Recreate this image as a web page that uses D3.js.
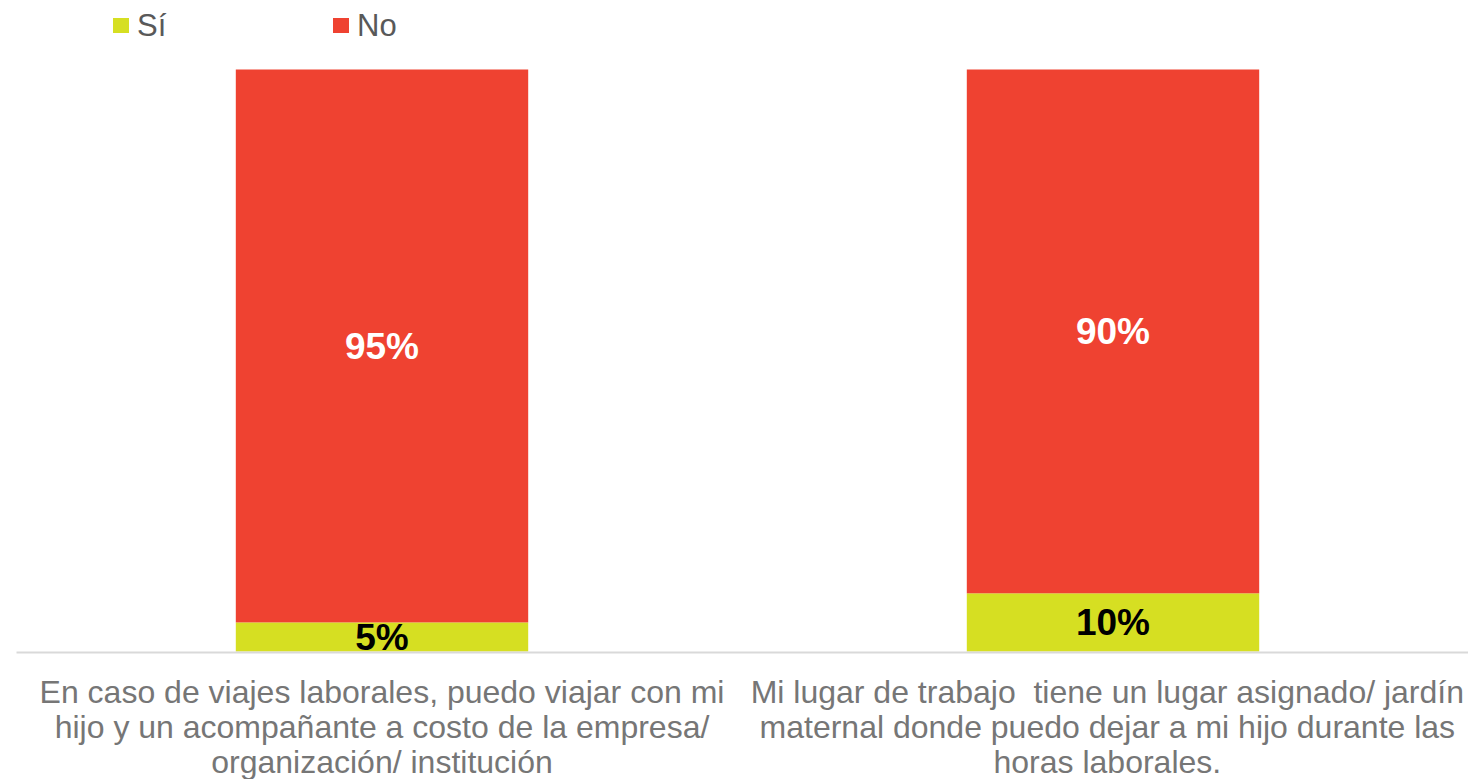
<!DOCTYPE html>
<html>
<head>
<meta charset="utf-8">
<script src="https://cdn.jsdelivr.net/npm/d3@7"></script>
<style>
  body { margin: 0; background: #fff; }
  text { font-family: "Liberation Sans", Arial, sans-serif; }
</style>
</head>
<body>
<svg id="chart" width="1468" height="779"></svg>
<script>
// categories, one label per bar (already split in lines)
var categories = ["q1", "q2"];
var categoryLines = [
  ["En caso de viajes laborales, puedo viajar con mi", "hijo y un acompañante a costo de la empresa/", "organización/ institución"],
  ["Mi lugar de trabajo  tiene un lugar asignado/ jardín", "maternal donde puedo dejar a mi hijo durante las", "horas laborales."]
];
var seriesNames = ["Sí", "No"];
var siValues = [5, 10];
var noValues = [95, 90];

var colors = { "Sí": "#d6df22", "No": "#ef4231" };

var svg = d3.select("#chart");
var margin = { left: 16.5, right: -10.5, top: 69.5, bottom: 127.5 };
var width = 1468 - margin.left - margin.right,
    height = 779 - margin.top - margin.bottom;

var x = d3.scaleBand().domain(categories).range([margin.left, margin.left + width]).paddingInner(0.6).paddingOuter(0.3);
var y = d3.scaleLinear().domain([0, 100]).range([margin.top + height, margin.top]);

var rows = categories.map(function(c, i) {
  return { cat: c, "Sí": siValues[i], "No": noValues[i] };
});
var stacked = d3.stack().keys(seriesNames)(rows);

// bars
var layer = svg.selectAll("g.layer")
    .data(stacked)
  .enter().append("g")
    .attr("class", "layer")
    .attr("fill", function(d) { return colors[d.key]; });

layer.selectAll("rect")
    .data(function(d) { return d; })
  .enter().append("rect")
    .attr("x", function(d) { return x(d.data.cat); })
    .attr("width", x.bandwidth())
    .attr("y", function(d) { return y(d[1]); })
    .attr("height", function(d) { return y(d[0]) - y(d[1]); });

// value labels
layer.each(function(s) {
  d3.select(this).selectAll("text")
      .data(s)
    .enter().append("text")
      .attr("x", function(d) { return x(d.data.cat) + x.bandwidth() / 2; })
      .attr("y", function(d) { return (y(d[0]) + y(d[1])) / 2 + 13; })
      .attr("text-anchor", "middle")
      .style("font-size", "37px")
      .style("font-weight", "bold")
      .attr("fill", s.key == "No" ? "#ffffff" : "#000000")
      .text(function(d) { return (d[1] - d[0]) + "%"; });
});

// axis line
svg.append("line")
    .attr("x1", margin.left)
    .attr("x2", 1468)
    .attr("y1", y(0) + 1)
    .attr("y2", y(0) + 1)
    .attr("stroke", "#d9d9d9")
    .attr("stroke-width", 2);

// category labels, pushed back inside when they would run off the right edge
categories.forEach(function(c, i) {
  var t = svg.append("text")
      .attr("text-anchor", "middle")
      .attr("fill", "#767676")
      .style("white-space", "pre")
      .style("font-size", "32px");
  var cx = x(c) + x.bandwidth() / 2;
  categoryLines[i].forEach(function(line, j) {
    t.append("tspan")
        .attr("x", cx)
        .attr("y", 703 + j * 35)
        .text(line);
  });
  var box = t.node().getBBox();
  var over = box.x + box.width - 1464;
  if (over > 0) t.selectAll("tspan").attr("x", cx - over);
});

// legend
var legendX = [113, 333];
seriesNames.forEach(function(name, i) {
  var g = svg.append("g").attr("transform", "translate(" + legendX[i] + ",18)");
  g.append("rect").attr("width", 16).attr("height", 15).attr("fill", colors[name]);
  g.append("text")
      .attr("x", 24)
      .attr("y", 18)
      .attr("fill", "#595959")
      .style("font-size", "31px")
      .text(name);
});
</script>
</body>
</html>
